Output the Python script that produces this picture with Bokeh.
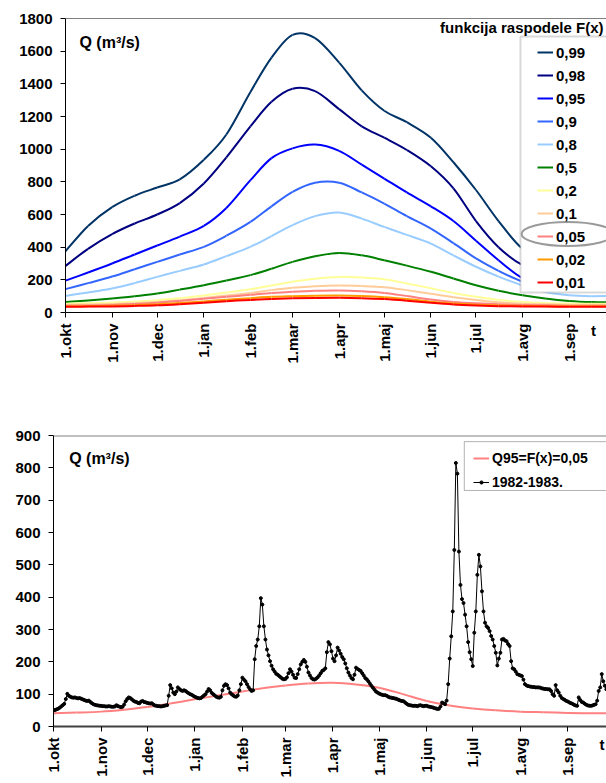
import math
from bokeh.plotting import figure
from bokeh.models import (Range1d, FixedTicker, Legend, LegendItem, Label, Span,
                          BoxAnnotation, LinearAxis)
from bokeh.layouts import column
from bokeh.embed import file_html
from bokeh.resources import INLINE

# ---------------- data ----------------
month_days = [0, 31, 61, 92, 123, 151, 182, 212, 243, 273, 304, 335]
month_labels = ["1.okt", "1.nov", "1.dec", "1.jan", "1.feb", "1.mar",
                "1.apr", "1.maj", "1.jun", "1.jul", "1.avg", "1.sep"]

# half-month sampling days (from 1 Oct)
days_half = [0, 15, 31, 46, 61, 76, 92, 107, 123, 137, 151, 166, 182,
             197, 212, 227, 243, 258, 273, 288, 304, 319, 335, 350, 365]

q099 = [375, 530, 645, 715, 765, 815, 935, 1090, 1350, 1560, 1700, 1680, 1530,
        1360, 1235, 1165, 1070, 920, 750, 560, 390, 345, 345, 360, 375]
q098 = [285, 390, 480, 545, 600, 670, 790, 950, 1140, 1290, 1370, 1355, 1245,
        1140, 1070, 995, 895, 760, 560, 400, 290, 255, 260, 275, 285]
q095 = [195, 245, 300, 355, 410, 465, 530, 640, 810, 945, 1005, 1028, 990,
        905, 820, 735, 650, 560, 440, 320, 210, 175, 180, 190, 195]
q090 = [143, 180, 220, 265, 310, 355, 402, 470, 555, 650, 739, 795, 795,
        735, 667, 590, 514, 425, 331, 255, 188, 150, 140, 140, 143]
q080 = [102, 122, 147, 180, 218, 255, 294, 345, 402, 468, 535, 590, 612,
        575, 524, 475, 422, 350, 280, 220, 165, 125, 105, 100, 102]
q050 = [65, 74, 86, 100, 116, 140, 167, 196, 229, 268, 310, 345, 365,
        350, 320, 287, 249, 208, 167, 133, 106, 86, 71, 64, 62]
q020 = [54, 57, 61, 67, 75, 88, 104, 122, 142, 165, 188, 207, 218,
        215, 204, 178, 148, 120, 96, 77, 64, 58, 55, 54, 54]
q010 = [47, 49, 52, 57, 64, 75, 89, 104, 120, 137, 151, 161, 165,
        162, 155, 137, 115, 94, 77, 63, 54, 50, 48, 47, 47]
q005 = [41, 43, 46, 52, 60, 71, 84, 96, 108, 119, 127, 133, 135,
        130, 120, 101, 79, 65, 56, 50, 46, 44, 42, 41, 41]
q002 = [38, 39, 41, 45, 50, 58, 68, 78, 88, 96, 100, 103, 104,
        101, 94, 82, 66, 55, 48, 43, 40, 39, 38, 38, 38]
q001 = [35, 36, 37, 40, 44, 51, 60, 69, 77, 83, 87, 89, 90,
        88, 82, 72, 59, 49, 43, 39, 37, 36, 35, 35, 35]

legend_labels = ["0,99", "0,98", "0,95", "0,9", "0,8", "0,5",
                 "0,2", "0,1", "0,05", "0,02", "0,01"]

# daily discharge 1982-1983 (day 0 = 1 Oct)
q_1982 = [
    50, 51, 53, 55, 58, 62, 66, 70, 85, 101,
    95, 92, 90, 89, 90, 88, 87, 88, 86, 84,
    82, 80, 79, 80, 76, 72, 69, 67, 66, 65,
    64, 64, 63, 63, 62, 62, 63, 62, 61, 61,
    62, 66, 63, 61, 60, 61, 68, 78, 85, 90,
    88, 84, 80, 77, 76, 73, 72, 77, 79, 76,
    75, 73, 72, 71, 72, 68, 65, 64, 63, 63,
    62, 63, 64, 65, 66, 95, 128, 118, 105, 100,
    108, 121, 116, 112, 110, 112, 110, 106, 103, 100,
    98, 95, 92, 90, 88, 87, 88, 92, 96, 100,
    108, 116, 112, 104, 100, 96, 92, 90, 89, 92,
    112, 126, 131, 128, 118, 105, 100, 96, 93, 92,
    96, 112, 131, 151, 145, 140, 131, 122, 115, 110,
    112, 208, 249, 269, 310, 397, 377, 310, 269, 238,
    220, 202, 188, 177, 170, 163, 160, 156, 152, 148,
    146, 147, 152, 165, 177, 170, 160, 151, 150, 162,
    177, 192, 200, 206, 200, 185, 167, 158, 150, 146,
    145, 148, 152, 158, 165, 172, 175, 180, 230, 261,
    254, 233, 210, 202, 220, 244, 235, 225, 215, 208,
    195, 180, 167, 158, 150, 146, 160, 182, 178, 175,
    172, 165, 158, 150, 146, 140, 133, 126, 120, 114,
    108, 105, 102, 100, 98, 97, 97, 95, 92, 90,
    89, 88, 87, 86, 84, 82, 80, 79, 78, 74,
    70, 67, 66, 65, 64, 64, 64, 63, 65, 66,
    64, 63, 64, 64, 62, 61, 60, 59, 57, 56,
    54, 55, 62, 74, 72, 69, 80, 131, 210, 279,
    356, 546, 815, 782, 541, 438, 394, 382, 346, 310,
    261, 230, 208, 187, 290, 356, 469, 531, 495, 418,
    356, 321, 310, 305, 295, 280, 269, 249, 228, 189,
    210, 228, 269, 271, 266, 264, 255, 249, 202, 180,
    177, 170, 162, 160, 158, 156, 145, 131, 127, 125,
    124, 123, 122, 122, 121, 121, 121, 120, 118, 117,
    116, 116, 115, 115, 110, 100, 95, 128, 112, 105,
    95, 88, 85, 82, 79, 77, 74, 72, 70, 67,
    65, 64, 90, 82, 76, 74, 70, 67, 65, 64,
    64, 65, 67, 69, 80, 110, 121, 162, 140, 126,
    115, 110, 105, 100, 98,
]
days_daily = list(range(len(q_1982)))

# ---------------- styling ----------------
FONT = "Liberation Sans"
colors = ["#003366", "#000080", "#0000ff", "#3366ff", "#99ccff", "#008000",
          "#ffff99", "#ffcc99", "#ff8080", "#ff9900", "#ff0000"]


def smooth_segments(xs, ys):
    """Catmull-Rom -> cubic Bezier control points (smoothed line rendering)."""
    n = len(xs)
    out = {k: [] for k in ("x0", "y0", "x1", "y1", "cx0", "cy0", "cx1", "cy1")}
    for i in range(n - 1):
        xp, yp = (xs[i - 1], ys[i - 1]) if i > 0 else (xs[i], ys[i])
        xn, yn = (xs[i + 2], ys[i + 2]) if i + 2 < n else (xs[i + 1], ys[i + 1])
        out["x0"].append(xs[i]); out["y0"].append(ys[i])
        out["x1"].append(xs[i + 1]); out["y1"].append(ys[i + 1])
        out["cx0"].append(xs[i] + (xs[i + 1] - xp) / 6.0)
        out["cy0"].append(ys[i] + (ys[i + 1] - yp) / 6.0)
        out["cx1"].append(xs[i + 1] - (xn - xs[i]) / 6.0)
        out["cy1"].append(ys[i + 1] - (yn - ys[i]) / 6.0)
    return out


def style(p, xaxis_color="black", xaxis_width=1):
    p.xgrid.visible = False
    p.ygrid.visible = False
    p.background_fill_color = "white"
    p.border_fill_color = "white"
    p.outline_line_color = None
    for ax in (p.xaxis[0], p.yaxis[0]):
        ax.major_label_text_font = FONT
        ax.major_label_text_font_style = "bold"
        ax.major_label_text_font_size = "15px"
        ax.major_label_text_color = "black"
        ax.major_tick_line_color = "black"
        ax.major_tick_out = 5
        ax.major_tick_in = 0
        ax.minor_tick_line_color = None
    p.yaxis[0].axis_line_color = "black"
    p.yaxis[0].major_label_standoff = 8
    p.xaxis[0].axis_line_color = xaxis_color
    p.xaxis[0].axis_line_width = xaxis_width
    p.xaxis[0].major_label_standoff = 6
    p.xaxis[0].ticker = FixedTicker(ticks=month_days)
    p.xaxis[0].major_label_overrides = {d: l for d, l in zip(month_days, month_labels)}
    p.xaxis[0].major_label_orientation = math.pi / 2


def add_t_axis(p, day, standoff):
    ax = LinearAxis(ticker=FixedTicker(ticks=[day]),
                    major_label_overrides={day: "t"},
                    axis_line_color=None, major_tick_line_color=None,
                    minor_tick_line_color=None, major_tick_in=0, major_tick_out=0,
                    major_label_standoff=standoff,
                    major_label_orientation="horizontal",
                    major_label_text_font=FONT, major_label_text_font_style="bold",
                    major_label_text_font_size="15px", major_label_text_color="black")
    p.add_layout(ax, "below")


# ---------------- top chart ----------------
p1 = figure(frame_width=541, frame_height=294, output_backend="svg",
            toolbar_location=None, x_range=Range1d(0, 359.8),
            y_range=Range1d(0, 1800), min_border_left=65, min_border_right=0,
            min_border_top=18, min_border_bottom=85, frame_align=False)
style(p1)
p1.yaxis.ticker = FixedTicker(ticks=list(range(0, 1801, 200)))
p1.add_layout(Span(location=1800, dimension="width", line_color="black", line_width=1))

series = [q099, q098, q095, q090, q080, q050, q020, q010, q005, q002, q001]
items = []
for lab, ys, col in zip(legend_labels, series, colors):
    seg = smooth_segments(days_half, ys)
    r = p1.bezier(line_color=col, line_width=2, **seg)
    items.append(LegendItem(label=lab, renderers=[r]))

p1.add_layout(BoxAnnotation(left=302.6, right=420, top=1690, bottom=122,
                            fill_color="white", fill_alpha=1,
                            line_color="#808080", line_width=2))
leg1 = Legend(items=items, location=(472, 20), glyph_width=16, glyph_height=20,
              label_height=20, spacing=3, padding=3, margin=0, label_standoff=3,
              border_line_color=None, background_fill_alpha=0,
              label_text_font=FONT, label_text_font_style="bold",
              label_text_font_size="15px", label_text_color="black")
p1.add_layout(leg1)
p1.ellipse(x=[333.9], y=[481], width=92, height=24, width_units="screen",
           height_units="screen", fill_color=None, line_color="#9a9a9a",
           line_width=2, level="overlay")
p1.add_layout(Label(x=357.8, y=1745, text="funkcija raspodele F(x)",
                    text_align="right", text_baseline="middle",
                    text_font=FONT, text_font_style="bold",
                    text_font_size="15px", text_color="black"))
p1.add_layout(Label(x=9.3, y=1653, text="Q (m³/s)", text_align="left",
                    text_baseline="middle", text_font=FONT,
                    text_font_style="bold", text_font_size="16px",
                    text_color="black"))
add_t_axis(p1, 351.2, -45)

# ---------------- bottom chart ----------------
p2 = figure(frame_width=553, frame_height=291, output_backend="svg",
            toolbar_location=None, x_range=Range1d(0, 360.1),
            y_range=Range1d(0, 900), min_border_left=53, min_border_right=0,
            min_border_top=38, min_border_bottom=56, frame_align=False)
style(p2, xaxis_color="#404040", xaxis_width=2)
p2.yaxis.ticker = FixedTicker(ticks=list(range(0, 901, 100)))
p2.add_layout(Span(location=900, dimension="width", line_color="#808080", line_width=2))

r_red = p2.bezier(line_color="#ff8080", line_width=2, **smooth_segments(days_half, q005))
r_blk = p2.line(days_daily, q_1982, line_color="black", line_width=1)
r_pts = p2.scatter(days_daily, q_1982, marker="circle", size=3,
                   fill_color="black", line_color="black")

p2.add_layout(BoxAnnotation(left=267.5, right=420, top=881, bottom=730,
                            fill_color="white", fill_alpha=1,
                            line_color="black", line_width=1))
leg2 = Legend(items=[LegendItem(label="Q95=F(x)=0,05", renderers=[r_red]),
                     LegendItem(label="1982-1983.", renderers=[r_blk, r_pts])],
              location=(420, 234), glyph_width=16, glyph_height=8,
              label_height=20, spacing=4, padding=3, margin=0, label_standoff=3,
              border_line_color=None, background_fill_alpha=0,
              label_text_font=FONT, label_text_font_style="bold",
              label_text_font_size="14px", label_text_color="black")
p2.add_layout(leg2)
p2.add_layout(Label(x=10.2, y=829, text="Q (m³/s)", text_align="left",
                    text_baseline="middle", text_font=FONT,
                    text_font_style="bold", text_font_size="16px",
                    text_color="black"))
add_t_axis(p2, 357.1, -45)

layout = column(p1, p2, spacing=0)
open("out.html", "w").write(file_html(layout, INLINE))
